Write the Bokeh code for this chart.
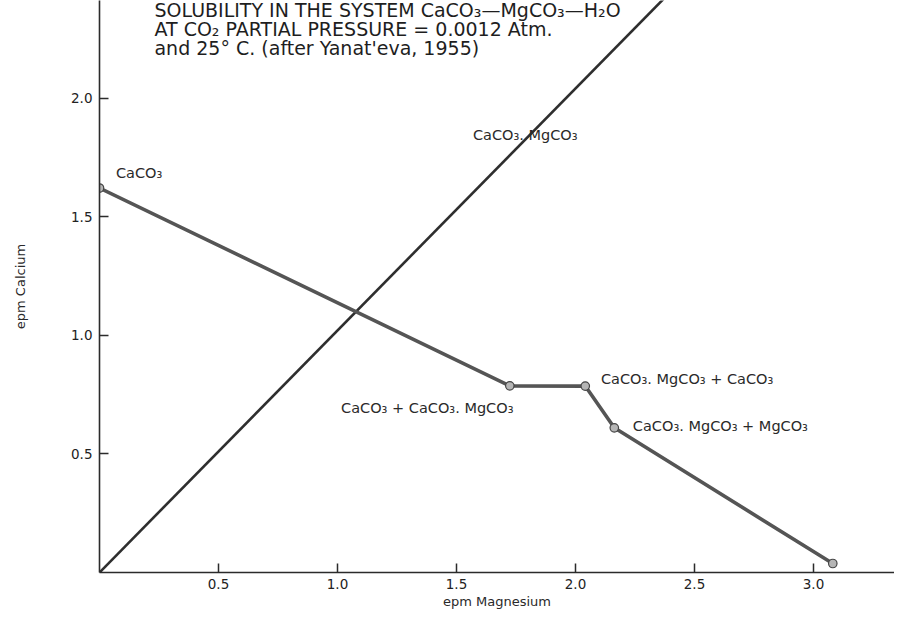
import math
from bokeh.plotting import figure
from bokeh.models import Label, FixedTicker, Range1d, PrintfTickFormatter
from bokeh.embed import file_html
from bokeh.resources import INLINE

# ---- data (epm) ----
mg_ca_curve = [0.0, 1.724, 2.041, 2.163, 3.081]
ca_ca_curve = [1.621, 0.787, 0.786, 0.610, 0.038]

dolomite_mg = [0.0, 2.45]
dolomite_ca = [0.0, 2.50]

x_ticks = [0.5, 1.0, 1.5, 2.0, 2.5, 3.0]
y_ticks = [0.5, 1.0, 1.5, 2.0]

title_lines = [
    "SOLUBILITY IN THE SYSTEM CaCO₃—MgCO₃—H₂O",
    "AT CO₂ PARTIAL PRESSURE = 0.0012 Atm.",
    "and 25° C. (after Yanat'eva, 1955)",
]
title_y = [2.370, 2.290, 2.210]
title_x = 0.231

ann_text = ["CaCO₃", "CaCO₃. MgCO₃", "CaCO₃ + CaCO₃. MgCO₃",
            "CaCO₃. MgCO₃ + CaCO₃", "CaCO₃. MgCO₃ + MgCO₃"]
ann_x = [0.069, 1.569, 1.015, 2.107, 2.241]
ann_y = [1.685, 1.845, 0.693, 0.815, 0.618]

x_title = "epm Magnesium"
y_title = "epm Calcium"

FONT = "DejaVu Sans"
INK = "#2b2b2b"

W, H = 894, 611
left_b, bottom_b = 99, 37
scale = 238.0
x_end = (W - left_b) / scale
y_end = (H - bottom_b) / scale

p = figure(width=W, height=H, output_backend="svg", toolbar_location=None,
           x_range=Range1d(0, x_end), y_range=Range1d(0, y_end),
           min_border_left=left_b, min_border_bottom=bottom_b,
           min_border_top=0, min_border_right=0)
p.outline_line_color = None
p.xgrid.grid_line_color = None
p.ygrid.grid_line_color = None
p.background_fill_color = "white"
p.border_fill_color = "white"

for ax, ticks in ((p.xaxis[0], x_ticks), (p.yaxis[0], y_ticks)):
    ax.ticker = FixedTicker(ticks=ticks)
    ax.formatter = PrintfTickFormatter(format="%.1f")
    ax.major_tick_in = 9
    ax.major_tick_out = 0
    ax.minor_tick_line_color = None
    ax.major_tick_line_color = INK
    ax.major_tick_line_width = 1.5
    ax.axis_line_color = INK
    ax.axis_line_width = 1.6
    ax.major_label_text_font = FONT
    ax.major_label_text_font_size = "13.5px"
    ax.major_label_text_color = "#222222"
    ax.axis_label_text_font = FONT
    ax.axis_label_text_font_size = "13px"
    ax.axis_label_text_font_style = "normal"
    ax.axis_label_text_color = "#2a2a2a"

p.xaxis[0].major_label_standoff = 6
p.xaxis[0].axis_label = x_title
p.xaxis[0].axis_label_standoff = 2

p.yaxis[0].major_label_standoff = 7
p.yaxis[0].axis_label = y_title
p.yaxis[0].axis_label_standoff = 40

# dolomite line (Ca = Mg)
p.line(dolomite_mg, dolomite_ca, line_color="#2e2e2e", line_width=2.6)
# solubility curve
p.line(mg_ca_curve, ca_ca_curve, line_color="#555555", line_width=3.6)
p.scatter(mg_ca_curve, ca_ca_curve, size=8.5, fill_color="#b5b5b5",
          line_color="#444444", line_width=1.2)

for t, yy in zip(title_lines, title_y):
    p.add_layout(Label(x=title_x, y=yy, text=t, text_font=FONT,
                       text_font_size="19px", text_color="#1e1e1e",
                       text_baseline="middle", text_align="left"))

for t, xx, yy in zip(ann_text, ann_x, ann_y):
    p.add_layout(Label(x=xx, y=yy, text=t, text_font=FONT,
                       text_font_size="14.5px", text_color="#2a2a2a",
                       text_baseline="middle", text_align="left"))

open("out.html", "w").write(file_html(p, INLINE))
